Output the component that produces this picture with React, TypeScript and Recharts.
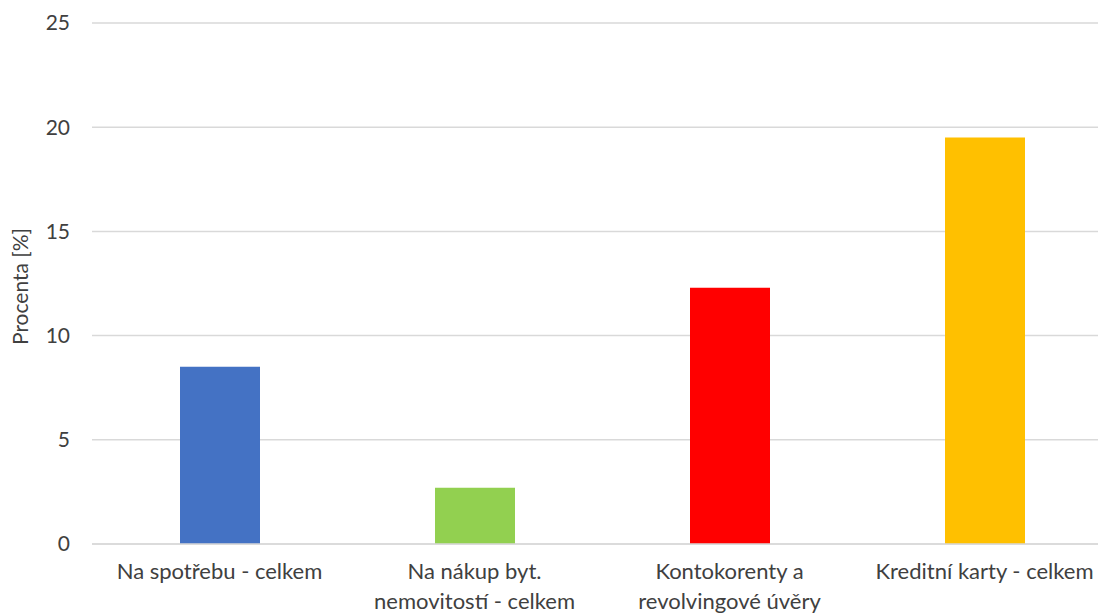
import { BarChart, Bar, XAxis, YAxis, CartesianGrid, Cell, Label } from "recharts"

const categories = [
  "Na spotřebu - celkem",
  "Na nákup byt.\nnemovitostí - celkem",
  "Kontokorenty a\nrevolvingové úvěry",
  "Kreditní karty - celkem",
]
const values = [8.5, 2.7, 12.3, 19.5]
const colors = ["#4472C4", "#92D050", "#FF0000", "#FFC000"]
const yTicks = [0, 5, 10, 15, 20, 25]

const data = categories.map((name, i) => ({ name, value: values[i] }))

const FONT = "Lato, 'Open Sans', sans-serif"
const TEXT = "#404040"

const CategoryTick = (props: any) => {
  const { x, y, payload } = props
  const lines: string[] = String(payload.value).split("\n")
  return (
    <text x={x} y={y} textAnchor="middle" fill={TEXT} fontSize={22} fontFamily={FONT}>
      {lines.map((l, i) => (
        <tspan key={i} x={x} dy={i === 0 ? 27 : 30}>{l}</tspan>
      ))}
    </text>
  )
}

const AxisTitle = (props: any) => {
  const vb = props.viewBox
  const cy = vb.y + vb.height / 2 + 3
  return (
    <text x={19} y={cy} transform={`rotate(-90, 19, ${cy})`} textAnchor="middle" dominantBaseline="central"
      fill={TEXT} fontSize={21} fontFamily={FONT}>
      Procenta [%]
    </text>
  )
}

export default function App() {
  return (
    <div style={{ position: "absolute", left: 0, top: 0, width: 1098, height: 616, overflow: "hidden", background: "#fff" }}>
      <BarChart width={1112} height={616} data={data} margin={{ top: 23, right: 0, bottom: 0, left: 0 }}>
        <CartesianGrid vertical={false} stroke="#d9d9d9" strokeWidth={1.5} />
        <XAxis dataKey="name" height={72} tickLine={false} axisLine={{ stroke: "#d9d9d9", strokeWidth: 1.5 }}
          tick={<CategoryTick />} interval={0} />
        <YAxis width={92} domain={[0, 25]} ticks={yTicks} tickLine={false} axisLine={false} tickSize={0} tickMargin={22}
          tick={{ fill: TEXT, fontSize: 21, fontFamily: FONT }}>
          <Label content={<AxisTitle />} />
        </YAxis>
        <Bar dataKey="value" barSize={80} isAnimationActive={false}>
          {data.map((d, i) => (
            <Cell key={d.name} fill={colors[i]} />
          ))}
        </Bar>
      </BarChart>
    </div>
  )
}
